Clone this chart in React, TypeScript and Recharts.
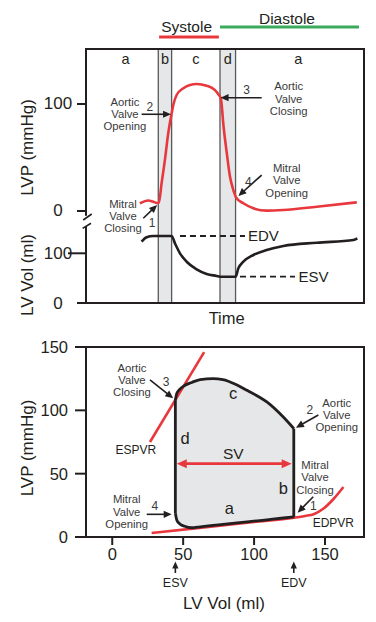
import React from 'react';
import { ComposedChart, Line, Area, XAxis, YAxis, ReferenceArea, ReferenceLine, ReferenceDot } from 'recharts';

// ---------- Top panel: pressure & volume vs time ----------
const lvpTime = [19.4, 21, 22.4, 24, 25.5, 26.2, 27.2, 28.4, 29.6, 30.8, 31.4, 32.6, 35, 37.4, 39.8, 43.4, 46.4, 47.8, 48.5, 49.5, 50.6, 51.8, 53, 54.2, 56.6, 60.2, 65, 71, 83, 97.4];
const lvpValues = [7, 9, 9.8, 8.8, 7.5, 7.6, 26, 48, 73, 91, 99, 108.4, 114.7, 117.8, 118.7, 117.1, 113, 108.4, 105.3, 78.5, 55, 32, 19.6, 11.9, 7.2, 2.5, 0.3, 0.9, 4, 8.1];
const volTime = [20, 21.8, 24.2, 30.8, 32.0, 33.8, 36.2, 39.8, 43.4, 47.0, 48.2, 53.8, 54.8, 56.6, 60.2, 65, 71, 83, 96.2, 97.6];
const volValues = [123.3, 132.2, 134.8, 134.8, 120, 100, 83, 67.8, 58.4, 54.3, 52.9, 52.9, 69.8, 83, 96.6, 106.6, 114.7, 121.3, 126.8, 130.2];
const phaseBands = [[26, 30.8], [48.2, 53.8]];
const phaseLabels = ['a', 'b', 'c', 'd', 'a'];
const phaseLabelTime = [14.2, 28.4, 39.5, 51, 76.4];
const systoleRange = [26.3, 47.8];
const diastoleRange = [48.2, 98.2];
const edvTop = 134.8;
const esvTop = 52.9;
const lvpTicks = [0, 100];
const volTicks = [0, 100];

// ---------- Bottom panel: pressure-volume loop ----------
const loopVols = [44.5, 45.5, 47.5, 51, 56, 62, 71, 78, 88, 95, 109, 120.6, 128];
const loopUpper = [108, 113.4, 116.5, 119.6, 122, 124.3, 125, 124.3, 120, 115.8, 106.6, 94.7, 85.6];
const loopLower = [18.7, 13.5, 10.5, 8.5, 7.3, 8.0, 9.1, 9.9, 11.1, 11.9, 13.6, 15.0, 15.8];
const espvrVol = [26.6, 64.8];
const espvrP = [75, 146];
const edpvrVol = [27.8, 60, 100, 128, 136, 142, 149, 156, 163];
const edpvrP = [3.2, 7.0, 11.8, 15.2, 16.6, 18.0, 22.5, 30.0, 39.5];
const esv = 44.5;
const edv = 128;
const svLevel = 57.9;
const pvXTicks = [0, 50, 100, 150];
const pvYTicks = [0, 50, 100, 150];

const lvpData = lvpTime.map((t, i) => ({ t, lvp: lvpValues[i] }));
const volData = volTime.map((t, i) => ({ t, vol: volValues[i] }));
const loopFill = loopVols.map((vol, i) => ({ vol, range: [loopLower[i], loopUpper[i]] }));
const upperData = loopVols.map((vol, i) => ({ vol, p: loopUpper[i] }));
const lowerData = loopVols.map((vol, i) => ({ vol, p: loopLower[i] }));
const espvrData = espvrVol.map((vol, i) => ({ vol, p: espvrP[i] }));
const edpvrData = edpvrVol.map((vol, i) => ({ vol, p: edpvrP[i] }));

const INK = '#231f20';
const RED = '#e8383d';
const GREEN = '#3aaa5c';
const BAND = '#e6e7e8';
const BAND_EDGE = '#58595b';
const NOTE = '#3a3a3a';
const FONT = '"Liberation Sans", Arial, Helvetica, sans-serif';

const yProp = (id?: string) => (id === undefined ? {} : { yAxisId: id });

function textShape(lines: string[], size: number, color: string, lh: number, anchor = 'middle') {
  return (p: any) => {
    const { cx, cy } = p;
    const n = lines.length;
    return (
      <g>
        {lines.map((l, i) => (
          <text key={i} x={cx} y={cy + (i - (n - 1) / 2) * lh} textAnchor={anchor} dominantBaseline="central" fontSize={size} fill={color} fontFamily={FONT}>
            {l}
          </text>
        ))}
      </g>
    );
  };
}

function note(key: string, x: number, y: number, lines: string[], size: number, color: string, yId?: string, lh = 12.3) {
  return <ReferenceDot key={key} x={x} y={y} r={0} {...yProp(yId)} ifOverflow="visible" shape={textShape(lines, size, color, lh)} />;
}

function arrowShape(color: string, sw: number, head: number, both = false) {
  return (p: any) => {
    const { x1, y1, x2, y2 } = p;
    const a = Math.atan2(y2 - y1, x2 - x1);
    const c = Math.cos(a);
    const s = Math.sin(a);
    const hw = head * 0.45;
    const tri = (x: number, y: number, cc: number, ss: number) =>
      `${x},${y} ${x - head * cc + hw * ss},${y - head * ss - hw * cc} ${x - head * cc - hw * ss},${y - head * ss + hw * cc}`;
    const sx = both ? x1 + head * 0.8 * c : x1;
    const sy = both ? y1 + head * 0.8 * s : y1;
    const ex = x2 - head * 0.8 * c;
    const ey = y2 - head * 0.8 * s;
    return (
      <g>
        <line x1={sx} y1={sy} x2={ex} y2={ey} stroke={color} strokeWidth={sw} />
        <polygon points={tri(x2, y2, c, s)} fill={color} />
        {both && <polygon points={tri(x1, y1, -c, -s)} fill={color} />}
      </g>
    );
  };
}

function arrow(key: string, x1: number, y1: number, x2: number, y2: number, yId?: string, color = INK, sw = 1.6, head = 8, both = false) {
  return (
    <ReferenceLine key={key} {...yProp(yId)} ifOverflow="visible" segment={[{ x: x1, y: y1 }, { x: x2, y: y2 }]} shape={arrowShape(color, sw, head, both)} />
  );
}

function seg(key: string, x1: number, y1: number, x2: number, y2: number, yId: string | undefined, color: string, sw: number, dash?: string) {
  return (
    <ReferenceLine key={key} {...yProp(yId)} ifOverflow="visible" segment={[{ x: x1, y: y1 }, { x: x2, y: y2 }]} stroke={color} strokeWidth={sw} strokeDasharray={dash} />
  );
}

const centerTick = (len: (v: number) => number, offset: number, size: number) => (p: any) => {
  const { x, y, payload } = p;
  const L = len(payload.value);
  return (
    <g>
      <line x1={x - L} x2={x} y1={y} y2={y} stroke={INK} strokeWidth={2} />
      <text x={x - offset} y={y} textAnchor="middle" dominantBaseline="central" fontSize={size} fill={INK} fontFamily={FONT}>
        {payload.value}
      </text>
    </g>
  );
};

const rightTick = (len: number, offset: number, size: number) => (p: any) => {
  const { x, y, payload } = p;
  return (
    <g>
      <line x1={x - len} x2={x} y1={y} y2={y} stroke={INK} strokeWidth={2} />
      <text x={x - offset} y={y} textAnchor="end" dominantBaseline="central" fontSize={size} fill={INK} fontFamily={FONT}>
        {payload.value}
      </text>
    </g>
  );
};

const bottomTick = (len: number, offset: number, size: number) => (p: any) => {
  const { x, y, payload } = p;
  return (
    <g>
      <line x1={x} x2={x} y1={y} y2={y + len} stroke={INK} strokeWidth={2} />
      <text x={x} y={y + offset} textAnchor="middle" dominantBaseline="central" fontSize={size} fill={INK} fontFamily={FONT}>
        {payload.value}
      </text>
    </g>
  );
};

const vTitle = (text: string, dx: (vb: any) => number, dy: (vb: any) => number, size = 17) => (props: any) => {
  const vb = props.viewBox || {};
  const cx = dx(vb);
  const cy = dy(vb);
  return (
    <text x={cx} y={cy} transform={`rotate(-90, ${cx}, ${cy})`} textAnchor="middle" dominantBaseline="central" fontSize={size} fill={INK} fontFamily={FONT}>
      {text}
    </text>
  );
};

const hTitle = (text: string, dx: (vb: any) => number, dy: (vb: any) => number, size = 17) => (props: any) => {
  const vb = props.viewBox || {};
  return (
    <text x={dx(vb)} y={dy(vb)} textAnchor="middle" dominantBaseline="central" fontSize={size} fill={INK} fontFamily={FONT}>
      {text}
    </text>
  );
};

function TopPanel() {
  return (
    <ComposedChart width={376} height={330} margin={{ top: 49, right: 12, bottom: 0, left: 46 }}>
      <XAxis type="number" dataKey="t" domain={[0, 100]} allowDataOverflow tick={false} tickLine={false} axisLine={false} height={27}
        label={hTitle('Time', (vb) => vb.x + vb.width / 2 + 1.7, (vb) => vb.y + 15.3, 16.5)} />
      <YAxis type="number" domain={[-86, 151.4]} allowDataOverflow ticks={lvpTicks} interval={0} width={40} axisLine={false} tickLine={false} tickSize={0} tickMargin={0}
        tick={centerTick(() => 9, 28, 17)}
        label={vTitle('LVP (mmHg)', (vb) => vb.x + vb.width - 59, (vb) => vb.y + 98.5)} />
      <YAxis yAxisId="v" type="number" domain={[0, 511]} allowDataOverflow ticks={volTicks} interval={0} mirror width={1} axisLine={false} tickLine={false} tickSize={0} tickMargin={0}
        tick={centerTick((v) => (v === 100 ? 18 : 9), 28, 17)}
        label={vTitle('LV Vol (ml)', (vb) => vb.x - 59, (vb) => vb.y + 226)} />

      {phaseBands.map((b, i) => (
        <ReferenceArea key={`band${i}`} x1={b[0]} x2={b[1]} y1={-86} y2={151.4} ifOverflow="visible" fill={BAND} fillOpacity={1} stroke={BAND_EDGE} strokeWidth={1.3} />
      ))}
      <ReferenceArea x1={0} x2={100} y1={-86} y2={151.4} ifOverflow="visible" fill="none" stroke={INK} strokeWidth={2} />
      <ReferenceArea x1={-1} x2={1.2} y1={-14.3} y2={-4.5} ifOverflow="visible" fill="#ffffff" fillOpacity={1} stroke="none" />
      {seg('brk1', -1, -8.4, 2.05, -2.8, undefined, INK, 1.6)}
      {seg('brk2', -1.2, -16.2, 1.8, -11.5, undefined, INK, 1.6)}

      {phaseLabels.map((l, i) => note(`pl${i}`, phaseLabelTime[i], 142, [l], 14.5, INK))}

      {seg('sys', systoleRange[0], 162.6, systoleRange[1], 162.6, undefined, RED, 3)}
      {seg('dia', diastoleRange[0], 172, diastoleRange[1], 172, undefined, GREEN, 3)}
      {note('systxt', 36.2, 172, ['Systole'], 15.5, INK)}
      {note('diatxt', 72.3, 180, ['Diastole'], 15.5, INK)}

      {seg('edv', 33.8, edvTop, 57.2, edvTop, 'v', INK, 1.8, '6 4')}
      {seg('esv', 55.4, esvTop, 75.2, esvTop, 'v', INK, 1.8, '6 4')}
      {note('edvtxt', 63.8, edvTop, ['EDV'], 15, INK, 'v')}
      {note('esvtxt', 81.8, esvTop, ['ESV'], 15, INK, 'v')}

      <Line data={lvpData} dataKey="lvp" type="monotone" stroke={RED} strokeWidth={2.6} dot={false} isAnimationActive={false} />
      <Line data={volData} dataKey="vol" yAxisId="v" type="monotone" stroke={INK} strokeWidth={2.6} dot={false} isAnimationActive={false} />

      {note('aoo', 14.0, 90.7, ['Aortic', 'Valve', 'Opening'], 11.3, NOTE)}
      {note('n2', 23.0, 97.5, ['2'], 12, NOTE)}
      {arrow('a2', 20.0, 90.4, 30.6, 90.4)}
      {note('aoc', 72.9, 105, ['Aortic', 'Valve', 'Closing'], 11.3, NOTE)}
      {note('n3', 57.8, 113, ['3'], 12, NOTE)}
      {arrow('a3', 63.2, 105.9, 48.4, 105.9)}
      {note('mvc', 13.3, -4.7, ['Mitral', 'Valve', 'Closing'], 11.3, NOTE)}
      {note('n1', 23.8, -10.9, ['1'], 12, NOTE)}
      {arrow('a1', 20.6, -6.8, 25.6, 5.6)}
      {note('mvo', 72.2, 28.5, ['Mitral', 'Valve', 'Opening'], 11.3, NOTE)}
      {note('n4', 58.4, 27.4, ['4'], 12, NOTE)}
      {arrow('a4', 63.2, 33.6, 54.8, 14)}
    </ComposedChart>
  );
}

function BottomPanel() {
  return (
    <ComposedChart width={376} height={292} margin={{ top: 17, right: 12, bottom: 0, left: 46 }}>
      <XAxis type="number" dataKey="vol" domain={[-18.5, 177.5]} allowDataOverflow ticks={pvXTicks} interval={0} height={85} axisLine={false} tickLine={false} tickSize={0} tickMargin={0}
        tick={bottomTick(8, 17, 16.5)}
        label={hTitle('LV Vol (ml)', (vb) => vb.x + vb.width / 2 - 1, (vb) => vb.y + 66)} />
      <YAxis type="number" domain={[0, 150]} allowDataOverflow ticks={pvYTicks} interval={0} width={40} axisLine={false} tickLine={false} tickSize={0} tickMargin={0}
        tick={rightTick(11, 18, 16.5)}
        label={vTitle('LVP (mmHg)', (vb) => vb.x + vb.width - 59, (vb) => vb.y + vb.height / 2 + 6)} />

      <ReferenceArea x1={-18.5} x2={177.5} y1={0} y2={150} ifOverflow="visible" fill="none" stroke={INK} strokeWidth={2} />

      <Area data={loopFill} dataKey="range" type="monotone" stroke="none" fill={BAND} fillOpacity={1} isAnimationActive={false} />
      <Line data={edpvrData} dataKey="p" type="monotone" stroke={RED} strokeWidth={2.6} dot={false} isAnimationActive={false} />
      <Line data={espvrData} dataKey="p" type="linear" stroke={RED} strokeWidth={2.6} dot={false} isAnimationActive={false} />
      <Line data={upperData} dataKey="p" type="monotone" stroke={INK} strokeWidth={2.8} dot={false} isAnimationActive={false} />
      <Line data={lowerData} dataKey="p" type="monotone" stroke={INK} strokeWidth={2.8} dot={false} isAnimationActive={false} />
      {seg('lside', loopVols[0], loopLower[0], loopVols[0], loopUpper[0], undefined, INK, 2.8)}
      {seg('rside', loopVols[loopVols.length - 1], loopLower[loopLower.length - 1], loopVols[loopVols.length - 1], loopUpper[loopUpper.length - 1], undefined, INK, 2.8)}

      {arrow('sv', esv + 1, svLevel, edv - 1.5, svLevel, undefined, RED, 2.6, 10, true)}
      {note('svtxt', 85.3, 66.1, ['SV'], 15.5, INK)}
      {note('lc', 85.3, 113.4, ['c'], 16.5, INK)}
      {note('ld', 51.3, 77.9, ['d'], 16.5, INK)}
      {note('lb', 120.6, 38.4, ['b'], 16.5, INK)}
      {note('la', 82.5, 23.1, ['a'], 16.5, INK)}
      {note('espvr', 16.7, 68.7, ['ESPVR'], 12, INK)}
      {note('edpvr', 155.9, 10.8, ['EDPVR'], 12, INK)}

      {note('b3t', 13.9, 123.8, ['Aortic', 'Valve', 'Closing'], 11.3, NOTE)}
      {note('b3n', 37.9, 122.1, ['3'], 12, NOTE)}
      {arrow('b3a', 26.6, 124, 43, 109.5)}
      {note('b2t', 158.3, 96.3, ['Aortic', 'Valve', 'Opening'], 11.3, NOTE)}
      {note('b2n', 139.4, 100.3, ['2'], 12, NOTE)}
      {arrow('b2a', 145.3, 96.3, 129.5, 86.3)}
      {note('b1t', 143, 47, ['Mitral', 'Valve', 'Closing'], 11.3, NOTE)}
      {note('b1n', 141.7, 24.5, ['1'], 12, NOTE)}
      {arrow('b1a', 141.7, 31.8, 130.7, 19.2)}
      {note('b4t', 10.2, 20.1, ['Mitral', 'Valve', 'Opening'], 11.3, NOTE)}
      {note('b4n', 30.1, 24.5, ['4'], 12, NOTE)}
      {arrow('b4a', 24.3, 17.9, 41.9, 17.9)}

      {arrow('esva', esv, -28.4, esv, -19.3, undefined, INK, 1.6, 7)}
      {arrow('edva', edv, -28.4, edv, -19.3, undefined, INK, 1.6, 7)}
      {note('esvl', esv, -36.5, ['ESV'], 12.5, INK)}
      {note('edvl', edv, -36.5, ['EDV'], 12.5, INK)}
    </ComposedChart>
  );
}

export default function App() {
  return (
    <div style={{ position: 'absolute', left: 0, top: 0, width: 376, height: 622, background: '#ffffff', fontFamily: FONT }}>
      <div style={{ position: 'absolute', left: 0, top: 0 }}>
        <TopPanel />
      </div>
      <div style={{ position: 'absolute', left: 0, top: 330 }}>
        <BottomPanel />
      </div>
    </div>
  );
}
